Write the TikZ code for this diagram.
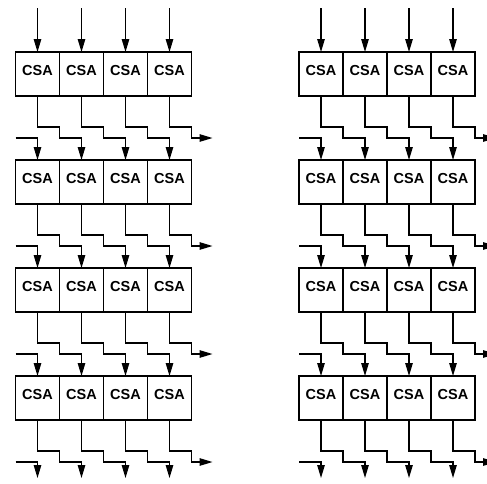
\documentclass[tikz,border=0pt]{standalone}
\usepackage{fontspec}
\setmainfont{Liberation Sans}
\usetikzlibrary{arrows.meta}
\begin{document}
\begin{tikzpicture}[x=1pt,y=-1pt,
  csa/.style={draw, line width=1.1pt, minimum width=44pt, minimum height=44pt,
    inner sep=0pt, outer sep=0pt, anchor=north west,
    font=\bfseries\fontsize{14.5}{14.5}\selectfont,
    text height=10.4pt, text depth=8pt},
  wire/.style={line width=1.2pt},
  arr/.style={wire, -{Triangle[length=13pt,width=7.5pt]}}]
\useasboundingbox (0,0) rectangle (487,483);
\clip (0,0) rectangle (487,483);

% two 4x4 arrays of carry-save adders
\foreach \s/\x in {L/15.5, R/299}{
  \foreach \r [evaluate=\r as \y using 52+108*(\r-1)] in {1,...,4}{
    \foreach \c in {1,...,4}{
      \node[csa] (\s\r-\c) at ({\x+44*(\c-1)}, \y) {CSA};
    }
  }
}

\foreach \s in {L,R}{
  % operand inputs into the first row
  \foreach \c in {1,...,4}{
    \draw[arr] ([yshift=44pt]\s1-\c.north) -- (\s1-\c.north);
  }
  % staircase wiring between consecutive rows
  \foreach \r [evaluate=\r as \rn using int(\r+1)] in {1,2,3}{
    \foreach \c [evaluate=\c as \cn using int(\c+1)] in {1,2,3}{
      \draw[arr] (\s\r-\c.south) -- ++(0,31) -- ++(22,0) -- ++(0,11) -| (\s\rn-\cn.north);
    }
    \draw[arr] (\s\r-4.south) -- ++(0,31) -- ++(22,0) -- ++(0,11) -- ++(21,0) coordinate (\s\r-out);
    \path (\s\r-1.south west) ++(0,42) coordinate (\s\r-in);
    \draw[arr] (\s\r-in) -| (\s\rn-1.north);
  }
  % outputs of the last row
  \foreach \c in {1,2,3}{
    \draw[arr] (\s4-\c.south) -- ++(0,31) -- ++(22,0) -- ++(0,11) -- ++(22,0) -- ++(0,16) coordinate (\s4-bot\c);
  }
  \draw[arr] (\s4-4.south) -- ++(0,31) -- ++(22,0) -- ++(0,11) -- ++(21,0) coordinate (\s4-out);
  \path (\s4-1.south west) ++(0,42) coordinate (\s4-in);
  \draw[arr] (\s4-in) -- ++(22,0) -- ++(0,16) coordinate (\s4-bot0);
}
\end{tikzpicture}
\end{document}
